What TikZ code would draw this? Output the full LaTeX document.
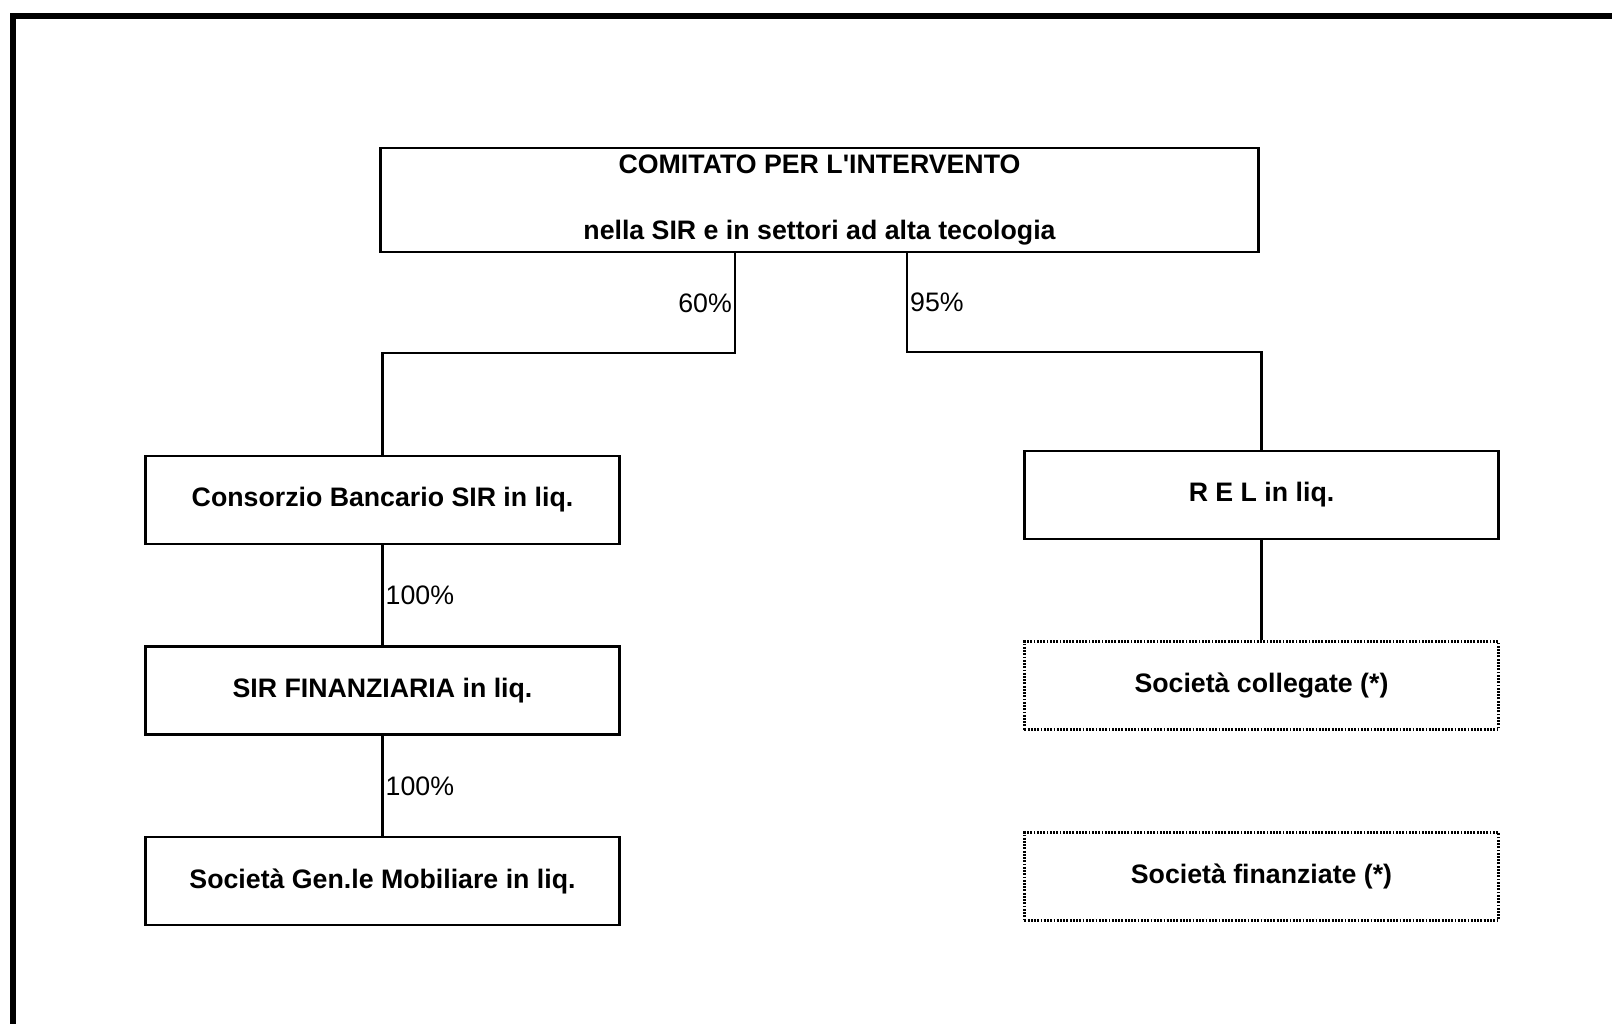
\documentclass[tikz,border=0pt]{standalone}
\usepackage{fontspec}
\newfontfamily\orgfont{Liberation Sans}
\usetikzlibrary{positioning}
\tikzset{
  orgbox/.style={
  rectangle,
  draw=black,
  line width=1.8pt,
  minimum width=11.85cm,
  minimum height=2.2cm,
  align=center,
  font=\orgfont\fontsize{19}{23}\selectfont\bfseries
  },
dotbox/.style={
  orgbox,
  line width=2pt,
  dash pattern=on 1.3pt off 1pt
},
link/.style={
  line width=1.6pt
}
        }

\begin{document}
\begin{tikzpicture}[x=0.025cm, y=-0.025cm, node distance=2.5cm]

% Line and label style
\tikzset{
  pct/.style={
    font=\orgfont\fontsize{19}{23}\selectfont,
    inner sep=1.5pt
  },
  frame/.style={
    line width=4pt
  }
}

\useasboundingbox (0,0) rectangle (1612,1024);
\clip (0,0) rectangle (1612,1024);
\draw [frame] (13,16) rectangle (1660,1070);

% Nodes
\node (comitato) [orgbox, minimum width=21.95cm, minimum height=2.6cm] at (819.5,200)
  {\raisebox{-3pt}{COMITATO PER L'INTERVENTO}\\[24pt]\raisebox{-3pt}{nella SIR e in settori ad alta tecologia}};

\node (consorzio) [orgbox] at (382.5,500) {Consorzio Bancario SIR in liq.};
\node (sirfin) [orgbox, below=of consorzio] {SIR FINANZIARIA in liq.};
\node (socgen) [orgbox, below=of sirfin] {Società Gen.le Mobiliare in liq.};

\node (rel) [orgbox] at (1261.5,495) {R E L in liq.};
\node (collegate) [dotbox, below=of rel] {Società collegate (*)};
\node (finanziate) [dotbox, below=of collegate] {Società finanziate (*)};

% Connectors
\coordinate (k60) at (735,353);
\coordinate (k95) at (907,352);

\draw [link] (comitato.south -| k60) -- node [pct, left] {60\%} (k60) -| (consorzio.north);
\draw [link] (comitato.south -| k95) -- node [pct, right] {95\%} (k95) -| (rel.north);

\draw [link] (consorzio) -- node [pct, right] {100\%} (sirfin);
\draw [link] (sirfin) -- node [pct, right] {100\%} (socgen);

\draw [link] (rel) -- (collegate);

\end{tikzpicture}
\end{document}
